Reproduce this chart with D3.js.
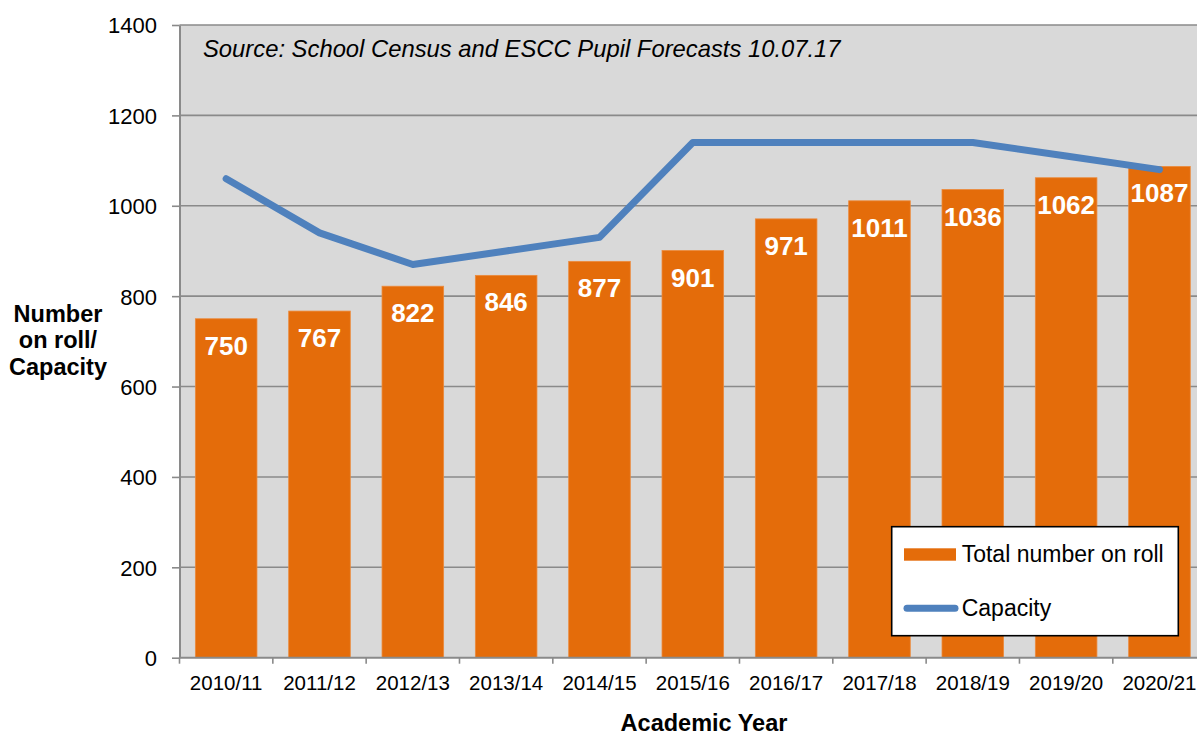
<!DOCTYPE html>
<html><head><meta charset="utf-8">
<script src="https://cdn.jsdelivr.net/npm/d3@7"></script>
<style>body{margin:0;background:#fff}svg{display:block}text{font-family:Arial,"Liberation Sans",sans-serif}</style>
</head><body>
<svg id="c" width="1197" height="736"></svg>
<script>
const categories = ["2010/11","2011/12","2012/13","2013/14","2014/15","2015/16","2016/17","2017/18","2018/19","2019/20","2020/21"];
const rollValues = [750,767,822,846,877,901,971,1011,1036,1062,1087];
const capacityValues = [1060,940,870,900,930,1140,1140,1140,1140,1110,1080];
const yTicks = [0,200,400,600,800,1000,1200,1400];

const svg = d3.select("#c");
const L = 179.5, T = 25, B = 657.7, step = 93.33;
const R = L + step * categories.length;
const x = d3.scaleBand().domain(categories).range([L, R]).paddingInner(0.34).paddingOuter(0.17);
const y = d3.scaleLinear().domain([0,1400]).range([B, T]);

svg.append("rect").attr("x", L).attr("y", T).attr("width", R - L).attr("height", B - T).attr("fill", "#d9d9d9");

// gridlines
svg.append("g").selectAll("line").data(yTicks.filter(d => d > 0)).join("line")
  .attr("x1", L).attr("x2", R).attr("y1", d => y(d)).attr("y2", d => y(d))
  .attr("stroke", "#8a8a8a").attr("stroke-width", 1.6);

// bars
svg.append("g").selectAll("rect").data(rollValues).join("rect")
  .attr("x", (d,i) => x(categories[i])).attr("width", x.bandwidth())
  .attr("y", d => y(d)).attr("height", d => B - y(d))
  .attr("fill", "#e46c0a").attr("stroke", "#ec8a3c").attr("stroke-width", 0.8);

// bar labels
svg.append("g").selectAll("text").data(rollValues).join("text")
  .attr("x", (d,i) => x(categories[i]) + x.bandwidth()/2)
  .attr("y", d => y(d) + 36)
  .attr("text-anchor", "middle").attr("fill", "#fff")
  .attr("font-weight", "bold").attr("font-size", "26px")
  .text(d => d);

// capacity line
const line = d3.line().x((d,i) => x(categories[i]) + x.bandwidth()/2).y(d => y(d));
svg.append("path").datum(capacityValues).attr("d", line)
  .attr("fill", "none").attr("stroke", "#4f81bd").attr("stroke-width", 7)
  .attr("stroke-linecap", "round").attr("stroke-linejoin", "round");

// y axis
const yAxis = d3.axisLeft(y).tickValues(yTicks).tickFormat(d3.format("d")).tickSize(7.5).tickSizeOuter(0).tickPadding(15);
const gy = svg.append("g").attr("transform", `translate(${L},0)`).call(yAxis);
gy.select(".domain").attr("stroke", "#8a8a8a").attr("stroke-width", 2);
gy.selectAll(".tick line").attr("stroke", "#8a8a8a").attr("stroke-width", 1.6);
gy.selectAll(".tick text").attr("font-size", "22px").attr("fill", "#000")
  .attr("font-family", "Arial, 'Liberation Sans', sans-serif").attr("dy", "0.36em");

// x axis
const xTickScale = d3.scalePoint().domain(d3.range(categories.length + 1)).range([L, R]);
const gx = svg.append("g");
gx.append("line").attr("x1", L).attr("x2", R).attr("y1", B).attr("y2", B)
  .attr("stroke", "#8a8a8a").attr("stroke-width", 2);
gx.selectAll("line.t").data(d3.range(categories.length + 1)).join("line").attr("class","t")
  .attr("x1", d => xTickScale(d)).attr("x2", d => xTickScale(d)).attr("y1", B).attr("y2", B + 6)
  .attr("stroke", "#8a8a8a").attr("stroke-width", 1.6);
const xAxis = d3.axisBottom(x).tickSize(0).tickPadding(0);
const gxl = svg.append("g").attr("transform", `translate(0,${B})`).call(xAxis);
gxl.select(".domain").remove();
gxl.selectAll(".tick text").attr("font-size", "20.5px").attr("fill", "#000")
  .attr("font-family", "Arial, 'Liberation Sans', sans-serif").attr("dy", null).attr("y", 32);

// source
svg.append("text").attr("x", 203).attr("y", 56.7).attr("font-style", "italic")
  .attr("font-size", "23.8px").attr("fill", "#000")
  .text("Source: School Census and ESCC Pupil Forecasts 10.07.17");

// axis titles
const yt = svg.append("text").attr("text-anchor", "middle").attr("font-weight", "bold").attr("font-size", "23.5px");
[["Number",321.7],["on roll/",348.3],["Capacity",375]].forEach(([t,b]) => yt.append("tspan").attr("x", 58).attr("y", b).text(t));
svg.append("text").attr("x", 704).attr("y", 731).attr("text-anchor", "middle")
  .attr("font-weight", "bold").attr("font-size", "23.5px").text("Academic Year");

// legend
const lg = svg.append("g");
lg.append("rect").attr("x", 891.7).attr("y", 526.7).attr("width", 286.6).attr("height", 109)
  .attr("fill", "#fff").attr("stroke", "#000").attr("stroke-width", 1.6);
lg.append("rect").attr("x", 904).attr("y", 548.3).attr("width", 52).attr("height", 12.4).attr("fill", "#e46c0a");
lg.append("text").attr("x", 961.7).attr("y", 561.7).attr("font-size", "23px").text("Total number on roll");
lg.append("line").attr("x1", 907).attr("x2", 955).attr("y1", 608.3).attr("y2", 608.3)
  .attr("stroke", "#4f81bd").attr("stroke-width", 7).attr("stroke-linecap", "round");
lg.append("text").attr("x", 961.7).attr("y", 616).attr("font-size", "23px").text("Capacity");
</script>
</body></html>
